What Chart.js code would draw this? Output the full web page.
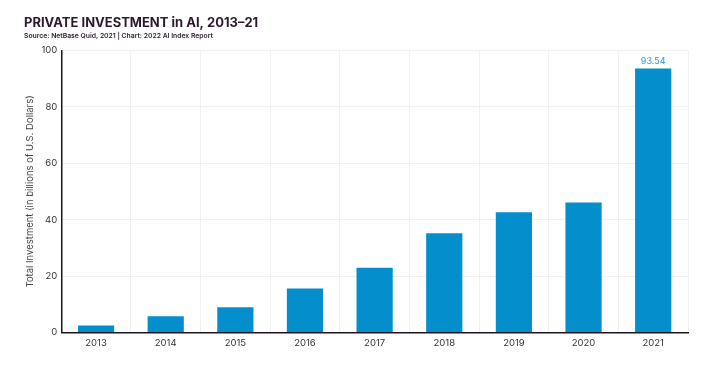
<!DOCTYPE html>
<html>
<head>
<meta charset="utf-8">
<script src="https://cdn.jsdelivr.net/npm/chart.js@4"></script>
<style>
html,body{margin:0;padding:0;background:#fff;}
#wrap{width:720px;height:382px;position:relative;}
</style>
</head>
<body>
<div id="wrap"><canvas id="c" width="720" height="382"></canvas></div>
<script>
const years = ['2013','2014','2015','2016','2017','2018','2019','2020','2021'];
const investment = [2.5, 5.8, 9.0, 15.6, 23.0, 35.2, 42.6, 46.1, 93.54];
const yTicks = [0, 20, 40, 60, 80, 100];
const labelIndex = 8;

const FONT = 'Inter, "Liberation Sans", sans-serif';

const valueLabel = {
  id: 'valueLabel',
  afterDatasetsDraw(chart) {
    const meta = chart.getDatasetMeta(0);
    const el = meta.data[labelIndex];
    const ctx = chart.ctx;
    ctx.save();
    ctx.font = '9px ' + FONT;
    ctx.fillStyle = '#2a9bd6';
    ctx.textAlign = 'center';
    ctx.textBaseline = 'bottom';
    ctx.fillText(investment[labelIndex].toFixed(2), el.x, el.y - 3);
    ctx.restore();
  }
};

new Chart(document.getElementById('c'), {
  type: 'bar',
  data: {
    labels: years,
    datasets: [{
      data: investment,
      backgroundColor: '#048fcc',
      barPercentage: 0.52,
      categoryPercentage: 1.0
    }]
  },
  options: {
    responsive: false,
    animation: false,
    devicePixelRatio: 1,
    layout: { padding: { left: 24, right: 32, bottom: 28, top: 0 } },
    plugins: {
      legend: { display: false },
      tooltip: { enabled: false },
      title: {
        display: true,
        text: 'PRIVATE INVESTMENT in AI, 2013–21',
        align: 'start',
        color: '#2a1a2c',
        font: { family: FONT, size: 13, weight: 'bold' },
        padding: { top: 15.5, bottom: 0 }
      },
      subtitle: {
        display: true,
        text: 'Source: NetBase Quid, 2021 | Chart: 2022 AI Index Report',
        align: 'start',
        color: '#2a1a2c',
        font: { family: FONT, size: 6.8, weight: '600' },
        padding: { top: 1, bottom: 10 }
      }
    },
    scales: {
      x: {
        grid: { display: true, color: '#f0f0f0', drawTicks: false },
        border: { display: true, color: '#1d1420', width: 1.5 },
        ticks: { color: '#333', font: { family: FONT, size: 9.5 }, padding: 5 }
      },
      y: {
        min: 0, max: 100,
        afterBuildTicks(scale) { scale.ticks = yTicks.map(v => ({ value: v })); },
        grid: { color: '#f0f0f0', drawTicks: false },
        border: { display: true, color: '#1d1420', width: 1.5 },
        ticks: { color: '#333', font: { family: FONT, size: 9.5 }, padding: 4 },
        title: {
          display: true,
          text: 'Total Investment (in billions of U.S. Dollars)',
          color: '#444',
          font: { family: FONT, size: 9.5 },
          padding: { top: 0, bottom: 2 }
        }
      }
    }
  },
  plugins: [valueLabel]
});
</script>
</body>
</html>
